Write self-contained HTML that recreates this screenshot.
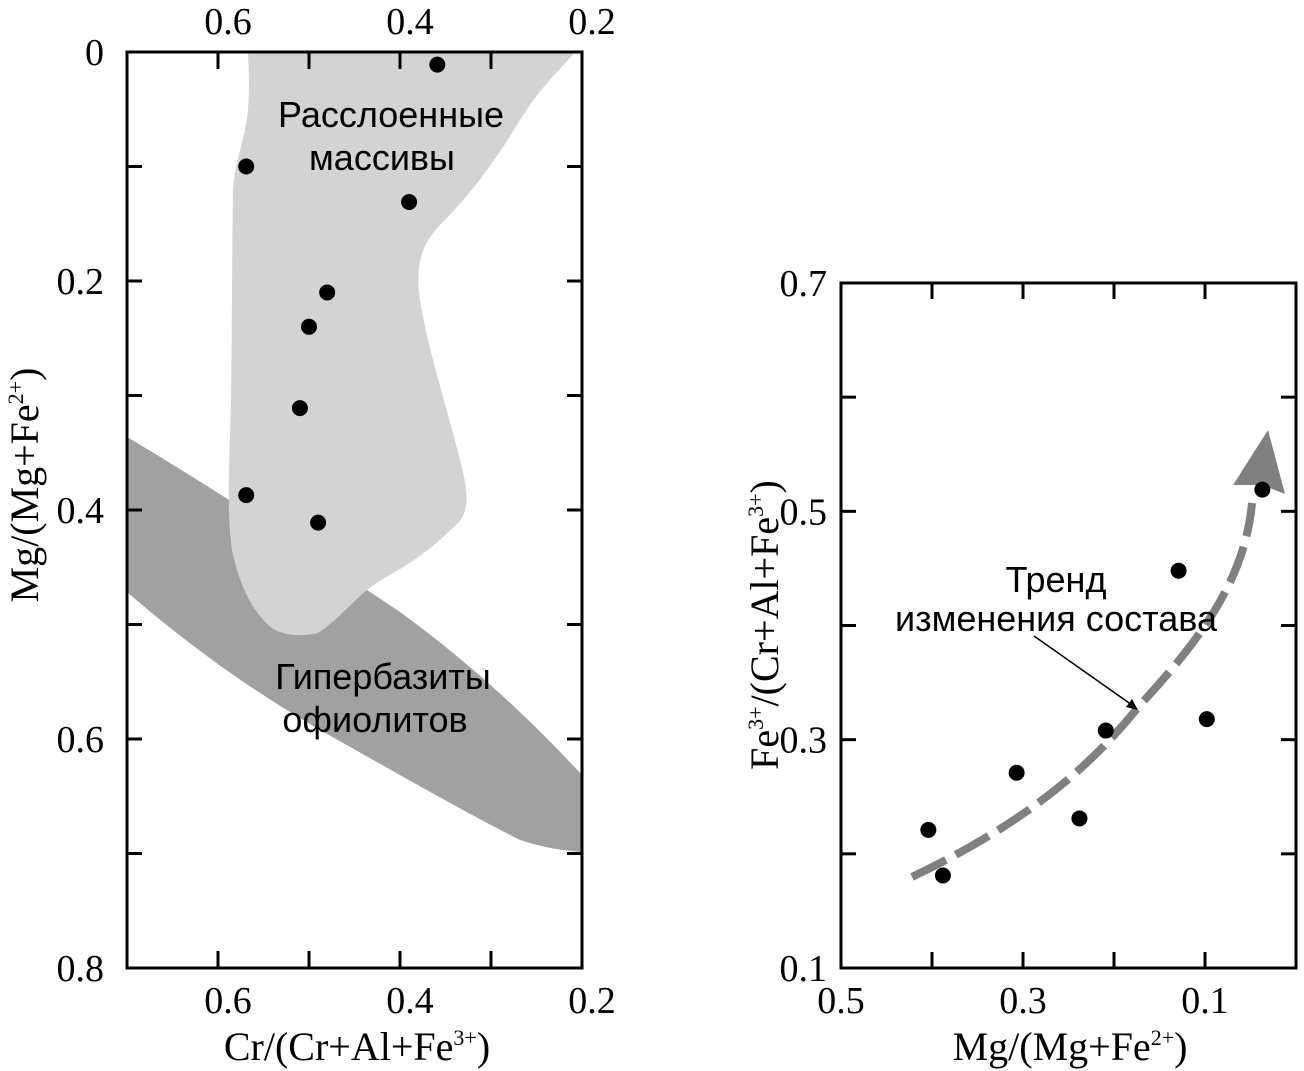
<!DOCTYPE html>
<html><head><meta charset="utf-8"><style>
html,body{margin:0;padding:0;background:#fff;}
svg{display:block;}
.tk{font-family:"Liberation Serif",serif;font-size:38px;fill:#000;}
.ti{font-family:"Liberation Serif",serif;font-size:40px;fill:#000;}
.an{font-family:"Liberation Sans",sans-serif;font-size:36px;fill:#000;}
</style></head><body>
<svg id="svg" width="1304" height="1071" viewBox="0 0 1304 1071">
<g id="left"></g>
<g id="right"></g>
</svg>
<script>
// Left chart data
const leftCr = [0.359, 0.569, 0.390, 0.480, 0.500, 0.510, 0.569, 0.490];
const leftMg = [0.011, 0.100, 0.131, 0.210, 0.240, 0.311, 0.387, 0.411];
const leftXTicks = [0.6, 0.4, 0.2];
const leftXMinor = [0.6, 0.5, 0.4, 0.3];
const leftYTicks = [0, 0.2, 0.4, 0.6, 0.8];
const leftYMinor = [0.1, 0.2, 0.3, 0.4, 0.5, 0.6, 0.7];
// Right chart data
const rightMg = [0.404, 0.388, 0.307, 0.238, 0.209, 0.129, 0.098, 0.037];
const rightFe = [0.221, 0.181, 0.271, 0.231, 0.308, 0.448, 0.318, 0.519];
const rightXTicks = [0.5, 0.3, 0.1];
const rightXMinor = [0.4, 0.3, 0.2, 0.1];
const rightYTicks = [0.7, 0.5, 0.3, 0.1];
const rightYMinor = [0.6, 0.5, 0.4, 0.3, 0.2];

const NS = "http://www.w3.org/2000/svg";
function mk(parent, tag, attrs, text){
  const e = document.createElementNS(NS, tag);
  for (const k in attrs) e.setAttribute(k, attrs[k]);
  if (text !== undefined) e.textContent = text;
  parent.appendChild(e);
  return e;
}
const SUP = 'dy="-15" font-size="22"';
// left axes
const L = {x0:127, x1:582, y0:52, y1:968};
const lx = v => L.x0 + (0.7 - v) / 0.5 * (L.x1 - L.x0);
const ly = v => L.y0 + v / 0.8 * (L.y1 - L.y0);
const lg = document.getElementById('left');

let e = mk(lg, 'path', {d:"M127,437 C200,480 300,545 400,612 C480,670 540,730 582,775 L582,852 C560,850 545,848 520,840 C470,815 400,775 320,730 C260,695 200,655 127,592 Z", fill:"#a0a1a0"});


e = mk(lg, 'path', {d:"M248,52 L575,52 C555,75 540,88 520,120 C490,170 465,200 440,225 C418,248 416,270 420,300 C428,350 445,400 460,460 C468,490 470,510 458,523 C440,540 425,555 390,575 C360,590 345,615 318,633 C300,637 280,636 268,625 C250,608 238,580 232,550 C226,510 230,450 231,400 C232,330 232,250 233,190 C235,160 245,140 248,110 C250,80 248,60 248,52 Z", fill:"#d2d3d2"});



e = mk(lg, 'rect', {x:L.x0, y:L.y0, width:L.x1-L.x0, height:L.y1-L.y0, fill:"none", stroke:"#000", "stroke-width":3});


leftXMinor.forEach(v=>{
  e = mk(lg,'line',{x1:lx(v),x2:lx(v),y1:L.y0,y2:L.y0+17,stroke:"#000","stroke-width":3});
   
  e = mk(lg,'line',{x1:lx(v),x2:lx(v),y1:L.y1,y2:L.y1-17,stroke:"#000","stroke-width":3});
   
});
leftYMinor.forEach(v=>{
  e = mk(lg,'line',{x1:L.x0,x2:L.x0+15,y1:ly(v),y2:ly(v),stroke:"#000","stroke-width":3});
   
  e = mk(lg,'line',{x1:L.x1,x2:L.x1-15,y1:ly(v),y2:ly(v),stroke:"#000","stroke-width":3});
   
});
leftXTicks.forEach(v=>{
  e = mk(lg,'text',{x:lx(v)+10,y:34,class:"tk","text-anchor":"middle"}, v.toFixed(1));
   
  e = mk(lg,'text',{x:lx(v)+10,y:1013,class:"tk","text-anchor":"middle"}, v.toFixed(1));
   
});
leftYTicks.forEach(v=>{
  e = mk(lg,'text',{x:104,y:ly(v)+13,class:"tk","text-anchor":"end"}, v===0?"0":v.toFixed(1));
   
});
leftCr.forEach((c,i)=>{
  e = mk(lg,'circle',{cx:lx(c),cy:ly(leftMg[i]),r:8,fill:"#000"});
   
});
e = mk(lg,'text',{x:391,y:127,class:"an","text-anchor":"middle"},"Расслоенные");
 
e = mk(lg,'text',{x:382,y:170,class:"an","text-anchor":"middle"},"массивы");
 
e = mk(lg,'text',{x:383,y:689,class:"an","text-anchor":"middle"},"Гипербазиты");
 
e = mk(lg,'text',{x:375,y:732,class:"an","text-anchor":"middle"},"офиолитов");
 
e = mk(lg,'text',{x:357,y:1060,class:"ti","text-anchor":"middle"});
e.innerHTML = 'Cr/(Cr+Al+Fe<tspan '+SUP+'>3+</tspan><tspan dy="15">)</tspan>';
 
e = mk(lg,'text',{x:0,y:0,class:"ti","text-anchor":"middle",transform:"translate(38,485) rotate(-90)"});
e.innerHTML = 'Mg/(Mg+Fe<tspan '+SUP+'>2+</tspan><tspan dy="15">)</tspan>';
 

// right axes
const R = {x0:841, x1:1296, y0:283, y1:968};
const rx = v => R.x1 - v / 0.5 * (R.x1 - R.x0);
const ry = v => R.y1 - (v - 0.1) / 0.6 * (R.y1 - R.y0);
const rg = document.getElementById('right');
e = mk(rg, 'rect', {x:R.x0, y:R.y0, width:R.x1-R.x0, height:R.y1-R.y0, fill:"none", stroke:"#000", "stroke-width":3});
 
rightXMinor.forEach(v=>{
  e = mk(rg,'line',{x1:rx(v),x2:rx(v),y1:R.y0,y2:R.y0+16,stroke:"#000","stroke-width":3});
   
  e = mk(rg,'line',{x1:rx(v),x2:rx(v),y1:R.y1,y2:R.y1-16,stroke:"#000","stroke-width":3});
   
});
rightYMinor.forEach(v=>{
  e = mk(rg,'line',{x1:R.x0,x2:R.x0+15,y1:ry(v),y2:ry(v),stroke:"#000","stroke-width":3});
   
  e = mk(rg,'line',{x1:R.x1,x2:R.x1-15,y1:ry(v),y2:ry(v),stroke:"#000","stroke-width":3});
   
});
rightXTicks.forEach(v=>{
  e = mk(rg,'text',{x:rx(v),y:1013,class:"tk","text-anchor":"middle"}, v.toFixed(1));
   
});
rightYTicks.forEach(v=>{
  e = mk(rg,'text',{x:827,y:ry(v)+13,class:"tk","text-anchor":"end"}, v.toFixed(1));
   
});
e = mk(rg,'path',{d:"M912,877 C1010,830 1080,780 1140,705 C1200,640 1245,580 1252,503",fill:"none",stroke:"#808080","stroke-width":8,"stroke-dasharray":"38 11"});
 
e = mk(rg,'polygon',{points:"1268,430 1285,494 1262,485 1233,485",fill:"#808080"});
 
rightMg.forEach((m,i)=>{
  e = mk(rg,'circle',{cx:rx(m),cy:ry(rightFe[i]),r:8,fill:"#000"});
   
});
e = mk(rg,'text',{x:1056,y:592,class:"an","text-anchor":"middle"},"Тренд");
 
e = mk(rg,'text',{x:1056,y:631,class:"an","text-anchor":"middle"},"изменения состава");
 
e = mk(rg,'line',{x1:1034,y1:636,x2:1132,y2:705,stroke:"#000","stroke-width":1.5});
 
e = mk(rg,'polygon',{points:"1138,710 1126,707 1132,699",fill:"#000"});
 
e = mk(rg,'text',{x:1070,y:1060,class:"ti","text-anchor":"middle"});
e.innerHTML = 'Mg/(Mg+Fe<tspan '+SUP+'>2+</tspan><tspan dy="15">)</tspan>';
 
e = mk(rg,'text',{x:0,y:0,class:"ti","text-anchor":"middle",transform:"translate(778,625) rotate(-90)"});
e.innerHTML = 'Fe<tspan '+SUP+'>3+</tspan><tspan dy="15">/(Cr+Al+Fe</tspan><tspan '+SUP+'>3+</tspan><tspan dy="15">)</tspan>';
 
</script>
</body></html>
